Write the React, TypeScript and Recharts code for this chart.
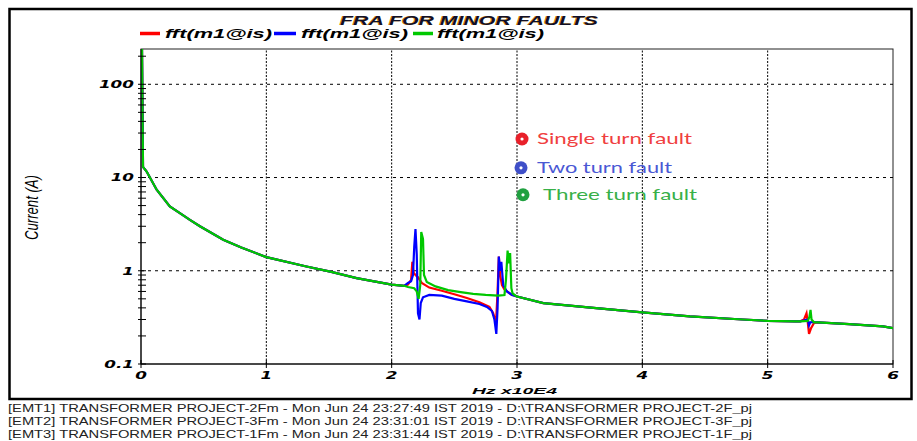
import React from "react";
import { LineChart, Line, XAxis, YAxis, ReferenceLine, ReferenceDot } from "recharts";

// legend names and colours of the three runs
const seriesNames = ["fft(m1@is)", "fft(m1@is)", "fft(m1@is)"];
const seriesColors = ["#ff0000", "#0000ff", "#00c800"];

// shared part of the response below the first resonance (Hz x10E4 / A)
const lowFreq = [0.008, 0.016, 0.045, 0.125, 0.23, 0.34, 0.39, 0.47, 0.656, 0.8, 1.0, 1.32, 1.51, 1.72, 2.0, 2.1];
const lowCurrent = [239, 13, 11.6, 7.4, 4.9, 3.9, 3.52, 3.0, 2.15, 1.78, 1.4, 1.11, 0.98, 0.835, 0.71, 0.69];

// shared part between the second and third resonance
const midFreq = [3.0, 3.21, 3.61, 4.0, 4.38, 4.8, 5.0, 5.22];
const midCurrent = [0.53, 0.45, 0.4, 0.357, 0.324, 0.3, 0.29, 0.287];

// shared tail
const tailFreq = [5.4, 5.65, 5.92, 6.0];
const tailCurrent = [0.28, 0.268, 0.253, 0.243];

// single turn fault (red)
const redResFreq = [2.13, 2.155, 2.165, 2.175, 2.19, 2.21, 2.24, 2.3, 2.4, 2.5, 2.6, 2.7, 2.78, 2.81, 2.825, 2.835, 2.845, 2.855, 2.865, 2.88, 2.9, 2.95];
const redResCurrent = [0.71, 0.8, 1.25, 0.95, 0.9, 0.85, 0.74, 0.66, 0.61, 0.56, 0.51, 0.46, 0.41, 0.35, 0.3, 0.32, 0.6, 1.42, 0.9, 0.7, 0.63, 0.56];
const redHighFreq = [5.26, 5.29, 5.31, 5.32, 5.33, 5.345, 5.37];
const redHighCurrent = [0.287, 0.3, 0.35, 0.28, 0.21, 0.24, 0.275];

// two turn fault (blue)
const blueResFreq = [2.13, 2.155, 2.17, 2.18, 2.19, 2.2, 2.21, 2.222, 2.232, 2.25, 2.3, 2.4, 2.5, 2.6, 2.7, 2.76, 2.8, 2.82, 2.835, 2.845, 2.855, 2.865, 2.875, 2.89, 2.92, 2.96];
const blueResCurrent = [0.74, 0.77, 0.9, 1.8, 2.8, 1.5, 0.35, 0.3, 0.45, 0.52, 0.55, 0.54, 0.5, 0.47, 0.44, 0.41, 0.37, 0.3, 0.21, 0.4, 1.42, 1.0, 1.25, 0.7, 0.6, 0.55];
const blueHighFreq = [5.26, 5.32, 5.33, 5.34, 5.36];
const blueHighCurrent = [0.287, 0.3, 0.26, 0.28, 0.282];

// three turn fault (green)
const greenResFreq = [2.13, 2.18, 2.2, 2.215, 2.228, 2.236, 2.25, 2.258, 2.28, 2.35, 2.45, 2.55, 2.65, 2.75, 2.85, 2.9, 2.912, 2.925, 2.935, 2.945, 2.955, 2.965, 2.99];
const greenResCurrent = [0.67, 0.65, 0.6, 0.5, 0.7, 2.6, 2.2, 0.9, 0.76, 0.68, 0.62, 0.59, 0.565, 0.55, 0.54, 0.55, 0.8, 1.65, 1.2, 1.55, 0.65, 0.57, 0.54];
const greenHighFreq = [5.26, 5.32, 5.333, 5.342, 5.35, 5.37];
const greenHighCurrent = [0.287, 0.29, 0.32, 0.38, 0.3, 0.28];

// axes
const xTicks = [0, 1, 2, 3, 4, 5, 6];
const xGrid = [1, 2, 3, 4, 5];
const yMajorTicks = [0.1, 1, 10, 100];
const yTicks = [0.1, 0.2, 0.3, 0.4, 0.5, 0.6, 0.7, 0.8, 0.9, 1, 2, 3, 4, 5, 6, 7, 8, 9, 10, 20, 30, 40, 50, 60, 70, 80, 90, 100, 200];
const yGrid = [1, 10, 100];

// hand-placed annotation text from the figure
const notes = [
  { text: "Single turn fault", freq: 3.04, current: 25.9, dot: "#e8202a", ink: "#f04040", dx: 15, len: 155 },
  { text: "Two turn fault", freq: 3.032, current: 12.7, dot: "#3f4fc8", ink: "#4a58d4", dx: 16, len: 135 },
  { text: "Three turn fault", freq: 3.048, current: 6.53, dot: "#20a040", ink: "#38b048", dx: 20, len: 154 },
];

const footer = [
  "[EMT1] TRANSFORMER PROJECT-2Fm - Mon Jun 24 23:27:49 IST 2019 - D:\\TRANSFORMER PROJECT-2F_pj",
  "[EMT2] TRANSFORMER PROJECT-3Fm - Mon Jun 24 23:31:01 IST 2019 - D:\\TRANSFORMER PROJECT-3F_pj",
  "[EMT3] TRANSFORMER PROJECT-1Fm - Mon Jun 24 23:31:44 IST 2019 - D:\\TRANSFORMER PROJECT-1F_pj",
];

const build = (...parts: [number[], number[]][]) =>
  parts
    .flatMap(([fs, cs]) => fs.map((f, i) => ({ freq: f, amp: cs[i] })))
    .sort((a, b) => a.freq - b.freq);

const series = [
  build([lowFreq, lowCurrent], [redResFreq, redResCurrent], [midFreq, midCurrent], [redHighFreq, redHighCurrent], [tailFreq, tailCurrent]),
  build([lowFreq, lowCurrent], [blueResFreq, blueResCurrent], [midFreq, midCurrent], [blueHighFreq, blueHighCurrent], [tailFreq, tailCurrent]),
  build([lowFreq, lowCurrent], [greenResFreq, greenResCurrent], [midFreq, midCurrent], [greenHighFreq, greenHighCurrent], [tailFreq, tailCurrent]),
];

const tickFont = {
  fontFamily: "DejaVu Sans",
  fontWeight: "bold" as const,
  fontStyle: "italic" as const,
  fontSize: 10.5,
  fill: "#000",
};

const YTick = (props: any) => {
  const { x, y, payload } = props;
  const v = payload.value;
  return (
    <g>
      <line x1={x - 3} x2={x + 5} y1={y} y2={y} stroke="#000" />
      {yMajorTicks.includes(v) && (
        <text transform={`translate(${x - 7},${y}) scale(1.6,1)`} textAnchor="end" dy="0.36em" {...tickFont}>
          {String(v)}
        </text>
      )}
    </g>
  );
};

const XTick = (props: any) => {
  const { x, y, payload } = props;
  return (
    <g>
      <line x1={x} x2={x} y1={y - 4} y2={y + 4} stroke="#000" />
      <text transform={`translate(${x},${y + 15}) scale(1.6,1)`} textAnchor="middle" {...tickFont}>
        {String(payload.value)}
      </text>
    </g>
  );
};

const boldItalic = { fontFamily: "Liberation Sans", fontWeight: "bold" as const, fontStyle: "italic" as const };

const legendSpots = [
  { line: [140, 160], text: 165 },
  { line: [274, 296], text: 301 },
  { line: [413, 433], text: 437 },
];

export default function App() {
  return (
    <div style={{ position: "absolute", left: 0, top: 0, width: 917, height: 441, background: "#fff", overflow: "hidden" }}>
      <svg width={917} height={441} style={{ position: "absolute", left: 0, top: 0 }}>
        <rect x={9.5} y={9} width={902} height={390} fill="none" stroke="#000" strokeWidth={2.5} />
        <rect x={141} y={49} width={752} height={315} fill="none" stroke="#222" strokeWidth={1} />
        <text x={339} y={24.5} textLength={258} lengthAdjust="spacingAndGlyphs" fontSize={12.5} fill="#e08a00" {...boldItalic}>
          FRA FOR MINOR FAULTS
        </text>
        <text x={340} y={24.5} textLength={258} lengthAdjust="spacingAndGlyphs" fontSize={12.5} fill="#101028" {...boldItalic}>
          FRA FOR MINOR FAULTS
        </text>
        {seriesNames.map((name, i) => (
          <g key={i}>
            <line x1={legendSpots[i].line[0]} x2={legendSpots[i].line[1]} y1={33.5} y2={33.5} stroke={seriesColors[i]} strokeWidth={3.5} />
            <text x={legendSpots[i].text} y={38} textLength={107} lengthAdjust="spacingAndGlyphs" fontSize={12} fill="#000" {...boldItalic}>
              {name}
            </text>
          </g>
        ))}
        <text transform="translate(32,207.5) scale(1.5,1) rotate(-90)" textAnchor="middle" dy="0.35em" fontFamily="Liberation Sans" fontStyle="italic" fontSize={12} fill="#000" textLength={65} lengthAdjust="spacingAndGlyphs">
          Current (A)
        </text>
        <text x={472} y={393.5} textLength={85} lengthAdjust="spacingAndGlyphs" fontSize={9.5} fill="#000" {...boldItalic}>
          Hz x10E4
        </text>
        {footer.map((line, i) => (
          <text key={i} x={8} y={412 + i * 13} textLength={744} lengthAdjust="spacingAndGlyphs" fontFamily="Liberation Sans" fontSize={11} fill="#222">
            {line}
          </text>
        ))}
      </svg>
      <div style={{ position: "absolute", left: 0, top: 0 }}>
        <LineChart width={917} height={441} data={series[0]} margin={{ top: 49, right: 24, bottom: 37, left: 0 }}>
          {yGrid.map((v) => (
            <ReferenceLine key={`h${v}`} y={v} stroke="#000" strokeDasharray="3 4" />
          ))}
          {xGrid.map((v) => (
            <ReferenceLine key={`v${v}`} x={v} stroke="#000" strokeDasharray="2 1.5" />
          ))}
          <XAxis
            dataKey="freq"
            type="number"
            domain={[0, 6]}
            ticks={xTicks}
            interval={0}
            allowDataOverflow
            height={40}
            tickSize={0}
            tickMargin={0}
            tickLine={false}
            axisLine={{ stroke: "#000" }}
            tick={<XTick />}
          />
          <YAxis
            type="number"
            scale="log"
            domain={[0.1, 239]}
            ticks={yTicks}
            interval={0}
            allowDataOverflow
            width={141}
            tickSize={0}
            tickMargin={0}
            tickLine={false}
            axisLine={{ stroke: "#000" }}
            tick={<YTick />}
          />
          {series.map((d, i) => (
            <Line
              key={i}
              data={d}
              dataKey="amp"
              type="linear"
              stroke={seriesColors[i]}
              strokeWidth={2.2}
              dot={false}
              activeDot={false}
              isAnimationActive={false}
            />
          ))}
          {notes.map((n) => (
            <ReferenceDot
              key={n.text}
              x={n.freq}
              y={n.current}
              r={6.5}
              isFront
              shape={(p: any) => (
                <g>
                  <circle cx={p.cx} cy={p.cy} r={6.5} fill={n.dot} />
                  <circle cx={p.cx} cy={p.cy} r={1.6} fill="#fff" />
                  <text x={p.cx + n.dx} y={p.cy} dy="0.35em" textLength={n.len} lengthAdjust="spacingAndGlyphs" fontFamily="Lato" fontSize={15} fill={n.ink}>
                    {n.text}
                  </text>
                </g>
              )}
            />
          ))}
        </LineChart>
      </div>
    </div>
  );
}
